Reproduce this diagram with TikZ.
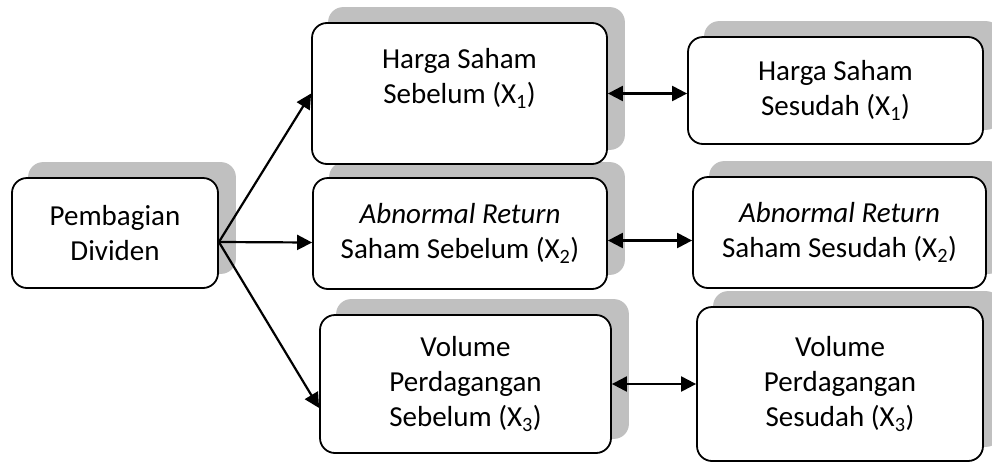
\documentclass[tikz,border=0pt]{standalone}
\usepackage{fontspec}
\setmainfont{Carlito}
\usetikzlibrary{arrows.meta,backgrounds}
\definecolor{shadowgray}{RGB}{192,192,192}

\newcommand{\printShadow}[1]{\fill [shadowgray, rounded corners=15pt] ([xshift=17pt,yshift=15pt]#1.south west) rectangle ([xshift=17pt,yshift=15pt]#1.north east);}

\tikzset{
  varbox/.style={draw=black, fill=white, rounded corners=15pt, line width=1.8pt, align=center, inner sep=0pt},
  link/.style={line width=2.2pt, ->},
  pair/.style={line width=2.2pt, <->}
}

\begin{document}
\begin{tikzpicture}[x=1pt,y=-1pt,line join=round,>={Triangle[length=15pt,width=15pt]},font=\fontsize{29}{35}\selectfont]
  \useasboundingbox (0,0) rectangle (992,461);

  % boxes
  \node [varbox, minimum width=206pt, minimum height=110pt] (div) at (115,233) {Pembagian\\Dividen};
  \node [varbox, minimum width=295pt, minimum height=141pt] (hsBefore) at (459.5,93.5) {Harga Saham\\Sebelum (X\textsubscript{1})\\[-11pt]\strut};
  \node [varbox, minimum width=294pt, minimum height=111pt] (arBefore) at (460,233.5) {\textit{Abnormal Return}\\Saham Sebelum (X\textsubscript{2})};
  \node [varbox, minimum width=291pt, minimum height=138pt] (vpBefore) at (465.5,384) {Volume\\Perdagangan\\Sebelum (X\textsubscript{3})};
  \node [varbox, minimum width=295pt, minimum height=107pt] (hsAfter) at (835.5,90.5) {Harga Saham\\Sesudah (X\textsubscript{1})};
  \node [varbox, minimum width=293pt, minimum height=111pt] (arAfter) at (839.5,232.5) {\textit{Abnormal Return}\\Saham Sesudah (X\textsubscript{2})};
  \node [varbox, minimum width=286pt, minimum height=154pt] (vpAfter) at (840,384) {Volume\\Perdagangan\\Sesudah (X\textsubscript{3})};

  % shadows
  \begin{scope}[on background layer]
    \foreach \n in {div,hsBefore,arBefore,vpBefore,hsAfter,arAfter,vpAfter} {
        \printShadow{\n}
      }
  \end{scope}

  % arrows
  \draw [link] ([yshift=-9pt]div.east) -- (hsBefore.west);
  \draw [link] ([yshift=-9pt]div.east) -- ([yshift=-9pt]arBefore.west);
  \draw [link] ([yshift=-9pt]div.east) -- ([yshift=-24pt]vpBefore.west);

  \draw [pair] (hsBefore.east) -- (hsBefore.east -| hsAfter.west);
  \draw [pair] ([yshift=-7pt]arBefore.east) -- ([yshift=-7pt]arBefore.east -| arAfter.west);
  \draw [pair] (vpBefore.east) -- (vpAfter.west);
\end{tikzpicture}
\end{document}
